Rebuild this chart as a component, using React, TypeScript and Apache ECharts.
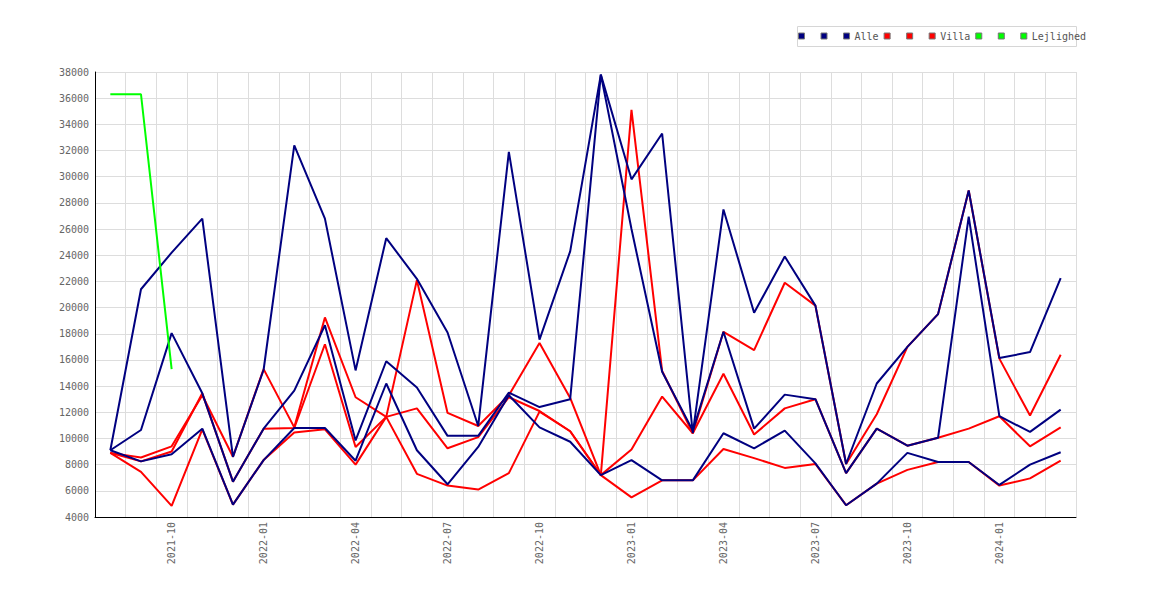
import React, { useEffect, useRef } from "react";
import * as echarts from "echarts";

const months = [
  "2021-08", "2021-09", "2021-10", "2021-11", "2021-12",
  "2022-01", "2022-02", "2022-03", "2022-04", "2022-05", "2022-06",
  "2022-07", "2022-08", "2022-09", "2022-10", "2022-11", "2022-12",
  "2023-01", "2023-02", "2023-03", "2023-04", "2023-05", "2023-06",
  "2023-07", "2023-08", "2023-09", "2023-10", "2023-11", "2023-12",
  "2024-01", "2024-02", "2024-03",
];

const alle1 = [9100, 21400, 24200, 26800, 8600, 15250, 32400, 26800, 15200, 25300, 22200, 18100, 10950, 31900, 17550, 24300, 37800, 29800, 33300, 10400, 27500, 19600, 23900, 20150, 8050, 14200, 17000, 19500, 28950, 16150, 16600, 22250];
const alle2 = [9100, 10650, 18050, 13450, 6700, 10750, 13650, 18650, 9850, 15900, 13900, 10200, 10200, 13500, 12400, 13000, 37800, 26000, 15100, 10600, 18150, 10750, 13350, 13000, 7350, 10750, 9450, 10050, 26950, 11700, 10500, 12200];
const alle3 = [9100, 8250, 8800, 10750, 4950, 8350, 10800, 10800, 8300, 14200, 9100, 6500, 9350, 13300, 10850, 9750, 7200, 8350, 6800, 6800, 10400, 9250, 10600, 8100, 4900, 6550, 8900, 8200, 8200, 6450, 8000, 8950];

const villa1 = [8900, 8550, 9400, 13300, 8600, 15300, 10850, 19250, 13150, 11650, 12300, 9250, 10100, 13150, 12100, 10550, 7200, 35100, 15150, 10400, 18150, 16750, 21900, 20150, 8050, 11850, 17000, 19500, 28950, 16100, 11750, 16400];
const villa2 = [8900, 8250, 9000, 13450, 6700, 10750, 10800, 17200, 9350, 11650, 22100, 11950, 10950, 13300, 17300, 13100, 7200, 9150, 13200, 10400, 14950, 10300, 12300, 13000, 7350, 10750, 9450, 10050, 10750, 11700, 9400, 10850];
const villa3 = [8900, 7450, 4850, 10700, 4950, 8350, 10450, 10700, 8000, 11650, 7300, 6400, 6100, 7350, 12050, 10550, 7200, 5500, 6800, 6800, 9200, 8500, 7750, 8050, 4900, 6550, 7600, 8200, 8200, 6400, 6950, 8300];

const lejlighed1 = [36300, 36300, 15300];
const lejlighed2: (number | null)[] = [];
const lejlighed3: (number | null)[] = [];

const yTicks = { min: 4000, max: 38000, step: 2000 };

const NAVY = "#000080";
const RED = "#ff0000";
const GREEN = "#00ff00";
const FONT = "'DejaVu Sans Mono', monospace";

function lineSeries(name: string, data: (number | null)[], color: string, z: number) {
  return {
    name,
    type: "line",
    data,
    color,
    symbol: "none",
    showSymbol: false,
    connectNulls: false,
    z,
    itemStyle: { color },
    lineStyle: { color, width: 2 },
    emphasis: { disabled: true },
  };
}

export default function App() {
  const ref = useRef<HTMLDivElement>(null);

  useEffect(() => {
    document.body.style.margin = "0";
    if (!ref.current) return;
    const chart = echarts.init(ref.current, undefined, { renderer: "svg" });

    const legendNames = [
      "Alle#1", "Alle#2", "Alle",
      "Villa#1", "Villa#2", "Villa",
      "Lejlighed#1", "Lejlighed#2", "Lejlighed",
    ];

    chart.setOption({
      animation: false,
      backgroundColor: "#ffffff",
      grid: { left: 95, right: 94, top: 72, bottom: 83, containLabel: false },
      graphic: [
        {
          type: "rect",
          z: 0,
          shape: { x: 797.5, y: 26.5, width: 279, height: 20 },
          style: { fill: "#ffffff", stroke: "#d6d6d6", lineWidth: 1 },
        },
      ],
      legend: {
        show: true,
        z: 5,
        data: legendNames,
        left: 798,
        top: 31,
        padding: 0,
        icon: "rect",
        itemWidth: 6,
        itemHeight: 6,
        itemGap: 5,
        selectedMode: false,
        itemStyle: { borderColor: "#777777", borderWidth: 1 },
        textStyle: { fontFamily: FONT, fontSize: 10, color: "#555555" },
        formatter: (name: string) => (name.indexOf("#") >= 0 ? " " : name),
      },
      xAxis: {
        type: "category",
        data: months,
        boundaryGap: true,
        axisLine: { show: true, lineStyle: { color: "#000000", width: 1 } },
        axisTick: { show: false, interval: 0 },
        splitLine: { show: true, interval: 0, lineStyle: { color: "#dddddd", width: 1 } },
        axisLabel: {
          rotate: 90,
          margin: 5,
          interval: (i: number) => i % 3 === 2,
          fontFamily: FONT,
          fontSize: 10,
          color: "#666666",
        },
      },
      yAxis: {
        type: "value",
        min: yTicks.min,
        max: yTicks.max,
        interval: yTicks.step,
        axisLine: { show: true, lineStyle: { color: "#000000", width: 1 } },
        axisTick: { show: false },
        splitLine: { show: true, lineStyle: { color: "#dddddd", width: 1 } },
        axisLabel: {
          margin: 6,
          fontFamily: FONT,
          fontSize: 10,
          color: "#666666",
          formatter: (v: number) => String(v),
        },
      },
      series: [
        lineSeries("Villa#1", villa1, RED, 2),
        lineSeries("Villa#2", villa2, RED, 2),
        lineSeries("Villa", villa3, RED, 2),
        lineSeries("Alle#1", alle1, NAVY, 3),
        lineSeries("Alle#2", alle2, NAVY, 3),
        lineSeries("Alle", alle3, NAVY, 3),
        lineSeries("Lejlighed#1", lejlighed1, GREEN, 4),
        lineSeries("Lejlighed#2", lejlighed2, GREEN, 4),
        lineSeries("Lejlighed", lejlighed3, GREEN, 4),
      ],
    });

    return () => chart.dispose();
  }, []);

  return <div ref={ref} style={{ width: 1170, height: 600 }} />;
}
